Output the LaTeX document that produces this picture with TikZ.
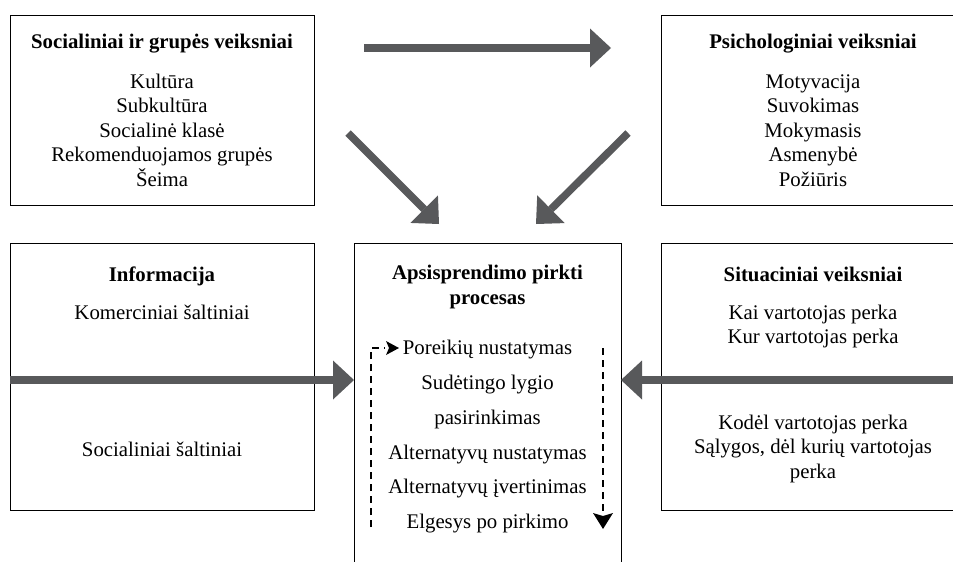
\documentclass[tikz,border=0pt]{standalone}
\usepackage{fontspec}
\setmainfont{Liberation Serif}
\usetikzlibrary{arrows.meta}
\definecolor{arrowgray}{RGB}{88,89,91}
\begin{document}
\begin{tikzpicture}[x=1pt,y=-1pt,
  box/.style={draw=black,line width=1.1pt,rectangle,inner sep=0pt,anchor=north west},
  txt/.style={anchor=base,inner sep=0pt,font=\fontsize{20.8pt}{25pt}\selectfont},
  ttl/.style={anchor=base,inner sep=0pt,font=\fontsize{20.8pt}{25pt}\selectfont\bfseries},
  bigarrow/.style={draw=arrowgray,line width=7.5pt,-{Triangle[length=21pt,width=39pt,line width=0pt]}},
  flow/.style={draw=black,line width=2pt,dash pattern=on 7pt off 5pt}
]
\useasboundingbox (0,0) rectangle (953,562);
\fill[white] (0,0) rectangle (953,562);

% boxes
\node[box,minimum width=304pt,minimum height=190pt] (sg) at (10,15) {};
\node[box,minimum width=305pt,minimum height=190pt] (ps) at (661,15) {};
\node[box,minimum width=304pt,minimum height=267pt] (inf) at (10,243) {};
\node[box,minimum width=267pt,minimum height=330pt] (proc) at (354,243) {};
\node[box,minimum width=305pt,minimum height=267pt] (sit) at (661,243) {};

% top-left texts
\node[ttl] (sgt) at (162,48) {Socialiniai ir grupės veiksniai};
\node[txt] (sg1) at (162,88) {Kultūra};
\node[txt] (sg2) at (162,112.5) {Subkultūra};
\node[txt] (sg3) at (162,137) {Socialinė klasė};
\node[txt] (sg4) at (162,161.5) {Rekomenduojamos grupės};
\node[txt] (sg5) at (162,186) {Šeima};

% top-right texts
\node[ttl] (pst) at (813,48) {Psichologiniai veiksniai};
\node[txt] (ps1) at (813,88) {Motyvacija};
\node[txt] (ps2) at (813,112.5) {Suvokimas};
\node[txt] (ps3) at (813,137) {Mokymasis};
\node[txt] (ps4) at (813,161.5) {Asmenybė};
\node[txt] (ps5) at (813,186) {Požiūris};

% bottom-left texts
\node[ttl] (inft) at (162,281) {Informacija};
\node[txt] (inf1) at (162,319) {Komerciniai šaltiniai};
\node[txt] (inf2) at (162,456) {Socialiniai šaltiniai};

% centre texts
\node[ttl] (proct1) at (487.5,279) {Apsisprendimo pirkti};
\node[ttl] (proct2) at (487.5,304) {procesas};
\node[txt] (p1) at (487.5,354) {Poreikių nustatymas};
\node[txt] (p2) at (487.5,389) {Sudėtingo lygio};
\node[txt] (p3) at (487.5,424) {pasirinkimas};
\node[txt] (p4) at (487.5,459) {Alternatyvų nustatymas};
\node[txt] (p5) at (487.5,493) {Alternatyvų įvertinimas};
\node[txt] (p6) at (487.5,528) {Elgesys po pirkimo};

% bottom-right texts
\node[ttl] (sitt) at (813,281) {Situaciniai veiksniai};
\node[txt] (sit1) at (813,319) {Kai vartotojas perka};
\node[txt] (sit2) at (813,343.5) {Kur vartotojas perka};
\node[txt] (sit3) at (813,429) {Kodėl vartotojas perka};
\node[txt] (sit4) at (813,453.5) {Sąlygos, dėl kurių vartotojas};
\node[txt] (sit5) at (813,478) {perka};

% big grey arrows
\coordinate (ta) at (364,48);
\coordinate (tb) at (611,48);
\coordinate (la) at (348,133);
\coordinate (lb) at (439,224);
\coordinate (ra) at (628,133);
\coordinate (rb) at (536,224);
\coordinate (ha) at (10,380);
\coordinate (hb) at (354,380);
\coordinate (ka) at (953,380);
\coordinate (kb) at (621,380);
\draw[bigarrow] (ta) -- (tb);
\draw[bigarrow] (la) -- (lb);
\draw[bigarrow] (ra) -- (rb);
\draw[bigarrow] (ha) -- (hb);
\draw[bigarrow] (ka) -- (kb);

% dashed process loop
\coordinate (fa) at (371,527);
\coordinate (fb) at (385,348);
\coordinate (fc) at (603,348);
\coordinate (fd) at (603,512);
\coordinate (ftip1) at (399,348);
\coordinate (ftip2) at (603,529);
\draw[flow] (fa) |- (fb);
\draw[flow] (fc) -- (fd);
\fill[black] (ftip1) -- ++(-13,-7) -- ++(3,7) -- ++(-3,7) -- cycle;
\fill[black] (ftip2) -- ++(-10,-16) -- ++(10,3) -- ++(10,-3) -- cycle;
\end{tikzpicture}
\end{document}
